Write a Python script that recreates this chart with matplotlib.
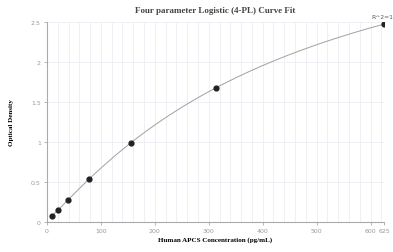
import matplotlib
matplotlib.use("Agg")
import matplotlib.pyplot as plt
import numpy as np

# --- dados ---
conc = [9.77, 19.53, 39.06, 78.125, 156.25, 312.5, 625]
od = [0.075, 0.15, 0.275, 0.54, 0.99, 1.675, 2.475]
xticks = [0, 100, 200, 300, 400, 500, 600, 625]
yticks = [0, 0.5, 1, 1.5, 2, 2.5]
titulo = "Four parameter Logistic (4-PL) Curve Fit"
rotulo_x = "Human APCS Concentration (pg/mL)"
rotulo_y = "Optical Density"
texto_r2 = "R^2=1"

# ajuste 4PL simples (grade em b, c; a e d por minimos quadrados)
x = np.array(conc)
y = np.array(od)
melhor = None
for b in np.linspace(0.8, 1.6, 81):
    for c in np.linspace(100, 2000, 191):
        g = (x / c) ** b / (1 + (x / c) ** b)
        A = np.column_stack([1 - g, g])
        coef, res, _, _ = np.linalg.lstsq(A, y, rcond=None)
        err = np.sum((A @ coef - y) ** 2)
        if melhor is None or err < melhor[0]:
            melhor = (err, b, c, coef)
_, b, c, (a, d) = melhor
xs = np.linspace(conc[0], conc[-1], 300)
ys = d + (a - d) / (1 + (xs / c) ** b)

fig = plt.figure(figsize=(3.93, 2.53), dpi=100)
ax = fig.add_axes([0.1196, 0.1186, 0.8575, 0.7904])

ax.set_xlim(0, 625)
ax.set_ylim(0, 2.5)
ax.set_xticks(np.arange(0, 626, 20), minor=True)
ax.set_xticks(xticks)
ax.set_xticklabels([str(t) for t in xticks])
ax.set_yticks(yticks)
ax.set_yticklabels(["0", "0.5", "1", "1.5", "2", "2.5"])
ax.grid(True, which="both", axis="x", color="#eceef5", lw=0.6)
ax.grid(True, which="major", axis="y", color="#eceef5", lw=0.6)
ax.set_axisbelow(True)

for s in ["top", "right"]:
    ax.spines[s].set_visible(False)
for s in ["left", "bottom"]:
    ax.spines[s].set_color("#aaaaaa")
    ax.spines[s].set_linewidth(0.8)
ax.tick_params(which="major", length=2.5, width=0.6, color="#aaaaaa", labelsize=4.5,
               labelcolor="#999999", pad=2)
ax.tick_params(which="minor", length=0)

ax.plot(xs, ys, color="#a0a0a0", lw=0.7, zorder=2)
ax.scatter(conc, od, s=12, color="#222222", zorder=3)
ax.annotate(texto_r2, (conc[-1], od[-1]), xytext=(-1.5, 3.5), textcoords="offset points",
            ha="center", va="bottom", fontsize=4.3, color="#555555")

fig.text(0.5465, 0.955, titulo, ha="center", va="center", fontsize=6.5,
         fontweight="bold", family="Liberation Serif", color="#444444")
fig.text(215 / 393, 1 - 240 / 253, rotulo_x, ha="center", va="center", fontsize=5,
         fontweight="bold", family="Liberation Serif")
fig.text(12 / 393, 1 - 123 / 253, rotulo_y, ha="center", va="center", rotation=90,
         fontsize=5, fontweight="bold", family="Liberation Serif")

fig.savefig("out.png", dpi=100)
